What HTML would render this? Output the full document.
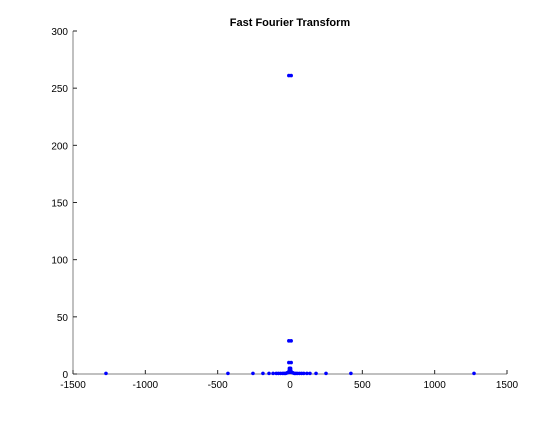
<!DOCTYPE html>
<html><head><meta charset="utf-8"><style>
body{margin:0;background:#fff;}
svg{font-family:"Liberation Sans",sans-serif;}
</style></head><body>
<svg id="chart" width="560" height="420" viewBox="0 0 560 420" xmlns="http://www.w3.org/2000/svg">
<rect width="560" height="420" fill="#fff"/>
<text x="290" y="26" text-anchor="middle" font-size="11" font-weight="bold">Fast Fourier Transform</text>
<g id="axes"></g>
<g id="points"></g>
</svg>
<script>
const xTicks=[-1500,-1000,-500,0,500,1000,1500];
const yTicks=[0,50,100,150,200,250,300];
const freqs=[-1272,-429,-256,-187,-145,-117,-95,-80,-65,-50,-40,-30,-20,-10,-8,-5,-3,0,3,5,8,10,20,30,40,50,65,80,95,117,138,180,249,421,1272,-8,8,-8,8,-8,8,-4,4];
const mags=[0.5,0.5,0.5,0.5,0.5,0.5,0.5,0.5,0.5,0.5,0.5,0.5,1,1.5,2,3,4,5,4,3,2,1.5,1,0.5,0.5,0.5,0.5,0.5,0.5,0.5,0.5,0.5,0.5,0.5,0.5,261,261,29,29,10,10,5,5];
const L=73,R=507,T=31,B=374;
const xs=v=>L+(v+1500)/3000*(R-L);
const ys=v=>B-v/300*(B-T);
const NS="http://www.w3.org/2000/svg";
const ax=document.getElementById('axes'),pts=document.getElementById('points');
function mk(tag,attrs,parent){const e=document.createElementNS(NS,tag);for(const k in attrs)e.setAttribute(k,attrs[k]);parent.appendChild(e);return e;}
const xl=mk('line',{x1:L,y1:B,x2:R,y2:B,stroke:'#808080','stroke-width':1},ax);


const yl=mk('line',{x1:L,y1:B,x2:L,y2:T,stroke:'#808080','stroke-width':1},ax);


xTicks.forEach(t=>{const x=xs(t);
mk('line',{x1:x,y1:B,x2:x,y2:B-4,stroke:'#262626'},ax);
const tx=mk('text',{x:x,y:B+14,'text-anchor':'middle','font-size':10},ax);tx.textContent=t;

});
yTicks.forEach(t=>{const y=ys(t);
mk('line',{x1:L,y1:y,x2:L+4,y2:y,stroke:'#262626'},ax);
const tx=mk('text',{x:L-5,y:y+4,'text-anchor':'end','font-size':10},ax);tx.textContent=t;

});
freqs.forEach((f,i)=>{const c=mk('circle',{cx:xs(f),cy:ys(mags[i]),r:1.8,fill:'#0000ff'},pts);

});
</script>
</body></html>
